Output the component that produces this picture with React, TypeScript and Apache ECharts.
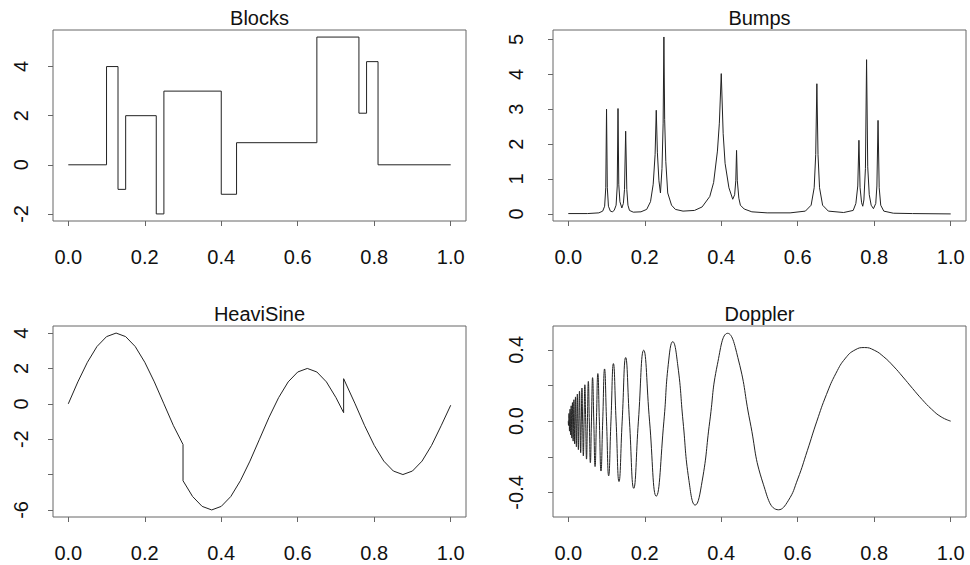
import React, { useEffect, useRef } from "react";
import * as echarts from "echarts";

const titles = ["Blocks", "Bumps", "HeaviSine", "Doppler"];
const xTicks = [0, 0.2, 0.4, 0.6, 0.8, 1.0];

const blocksTicks = [-2, 0, 2, 4];
const bumpsTicks = [0, 1, 2, 3, 4, 5];
const heaviTicks = [-6, -4, -2, 0, 2, 4];
const heaviLabels = [-6, -2, 0, 2, 4];
const dopplerTicks = [-0.4, -0.2, 0, 0.2, 0.4];
const dopplerLabels = [-0.4, 0, 0.4];

// Blocks: step function (value holds until next x)
const blocksData = [
  [0, 0], [0.1, 4], [0.13, -1], [0.15, 2], [0.23, -2], [0.25, 3],
  [0.4, -1.2], [0.44, 0.9], [0.65, 5.2], [0.76, 2.1], [0.78, 4.2], [0.81, 0], [1.0, 0],
];

const bumpsData = [
  [0, 0.01], [0.05, 0.01], [0.08, 0.03], [0.09, 0.08], [0.095, 0.22], [0.098, 0.75], [0.1, 3.0],
  [0.102, 0.75], [0.105, 0.22], [0.11, 0.08], [0.115, 0.06], [0.12, 0.1], [0.125, 0.25],
  [0.128, 0.8], [0.13, 3.02], [0.132, 0.85], [0.135, 0.35], [0.14, 0.17], [0.144, 0.3],
  [0.147, 0.7], [0.15, 2.37], [0.153, 0.7], [0.156, 0.25], [0.16, 0.1], [0.17, 0.05],
  [0.19, 0.06], [0.205, 0.13], [0.215, 0.35], [0.222, 0.85], [0.227, 1.7], [0.23, 2.97],
  [0.233, 1.75], [0.237, 0.95], [0.241, 0.6], [0.245, 1.3], [0.248, 2.6], [0.25, 5.07],
  [0.252, 2.7], [0.255, 1.5], [0.26, 0.6], [0.27, 0.25], [0.28, 0.13], [0.3, 0.08],
  [0.33, 0.1], [0.35, 0.2], [0.37, 0.5], [0.38, 0.9], [0.39, 1.8], [0.395, 2.6], [0.4, 4.02],
  [0.405, 2.3], [0.41, 1.45], [0.42, 0.75], [0.43, 0.42], [0.435, 0.55], [0.438, 0.95],
  [0.44, 1.82], [0.442, 0.95], [0.446, 0.45], [0.45, 0.25], [0.46, 0.14], [0.48, 0.06],
  [0.52, 0.03], [0.58, 0.03], [0.62, 0.08], [0.635, 0.25], [0.643, 0.75], [0.647, 1.7],
  [0.65, 3.73], [0.653, 1.7], [0.657, 0.75], [0.665, 0.25], [0.68, 0.08], [0.72, 0.04],
  [0.745, 0.1], [0.752, 0.3], [0.757, 0.8], [0.76, 2.11], [0.763, 0.75], [0.767, 0.32],
  [0.77, 0.22], [0.773, 0.4], [0.777, 1.3], [0.78, 4.42], [0.783, 1.35], [0.787, 0.55],
  [0.792, 0.25], [0.798, 0.15], [0.804, 0.3], [0.807, 0.8], [0.81, 2.68], [0.813, 0.75],
  [0.817, 0.25], [0.825, 0.08], [0.85, 0.02], [0.9, 0.01], [1.0, 0.0],
];

const heaviData = [
  [0, 0], [0.025, 1.24], [0.05, 2.35], [0.075, 3.24], [0.1, 3.8], [0.125, 4.0], [0.15, 3.8],
  [0.175, 3.24], [0.2, 2.35], [0.225, 1.24], [0.25, 0], [0.275, -1.24], [0.3, -2.3],
  [0.3, -4.35], [0.325, -5.24], [0.35, -5.8], [0.375, -6.0], [0.4, -5.8], [0.425, -5.24],
  [0.45, -4.35], [0.475, -3.24], [0.5, -2.0], [0.525, -0.76], [0.55, 0.35], [0.575, 1.24],
  [0.6, 1.8], [0.625, 2.0], [0.65, 1.8], [0.675, 1.24], [0.7, 0.35], [0.72, -0.5],
  [0.72, 1.42], [0.75, 0], [0.775, -1.24], [0.8, -2.35], [0.825, -3.24], [0.85, -3.8],
  [0.875, -4.0], [0.9, -3.8], [0.925, -3.24], [0.95, -2.35], [0.975, -1.24], [1.0, -0.08],
];

const dopplerData = [
  [0, 0], [0.0006, -0.024], [0.00122, 0], [0.00185, 0.043], [0.0025, 0], [0.00316, -0.056],
  [0.00385, 0], [0.00455, 0.067], [0.00526, 0], [0.006, -0.077], [0.00676, 0], [0.00753, 0.086],
  [0.00833, 0], [0.00915, -0.095], [0.01, 0], [0.01087, 0.104], [0.01176, 0], [0.01269, -0.112],
  [0.01364, 0], [0.01462, 0.12], [0.01563, 0], [0.01667, -0.128], [0.01774, 0], [0.01885, 0.136],
  [0.02, 0], [0.02119, -0.144], [0.02241, 0], [0.02368, 0.152], [0.025, 0], [0.02636, -0.16],
  [0.02778, 0], [0.02925, 0.168], [0.03077, 0], [0.03235, -0.177], [0.034, 0], [0.03571, 0.186],
  [0.0375, 0], [0.03936, -0.195], [0.0413, 0], [0.04333, 0.204], [0.04545, 0], [0.04767, -0.213],
  [0.05, 0], [0.05244, 0.223], [0.055, 0], [0.05769, -0.233], [0.06053, 0], [0.06351, 0.244],
  [0.06667, 0], [0.07, -0.255], [0.07353, 0], [0.07727, 0.267], [0.08125, 0], [0.08548, -0.28],
  [0.09, 0], [0.09483, 0.293], [0.1, 0], [0.10556, -0.307], [0.11154, 0], [0.118, 0.323],
  [0.125, 0], [0.1326, -0.339], [0.14091, 0], [0.15, 0.357], [0.16, 0], [0.1711, -0.377],
  [0.18333, 0], [0.1971, 0.398], [0.2125, 0], [0.23, -0.421], [0.25, 0], [0.2615, 0.319],
  [0.2731, 0.446], [0.2865, 0.31], [0.3, 0], [0.3155, -0.333], [0.3318, -0.471], [0.35, -0.337],
  [0.37, 0], [0.39, 0.319], [0.4167, 0.493], [0.445, 0.343], [0.475, 0], [0.51, -0.354],
  [0.55, -0.4975], [0.575, -0.447], [0.6, -0.325], [0.625, -0.166], [0.65, 0], [0.675, 0.149],
  [0.7, 0.269], [0.725, 0.354], [0.75, 0.4], [0.775, 0.413], [0.8, 0.398], [0.825, 0.361],
  [0.85, 0.309], [0.875, 0.248], [0.9, 0.184], [0.925, 0.122], [0.95, 0.067], [0.975, 0.024],
  [1.0, 0],
];

const FONT = '"Liberation Sans", Arial, Helvetica, sans-serif';
const AXIS_COLOR = "#666";
const LINE_COLOR = "#222";
const TEXT_COLOR = "#111";

export default function App() {
  const ref = useRef<HTMLDivElement>(null);
  useEffect(() => {
    if (!ref.current) return;
    const chart = echarts.init(ref.current, null, { renderer: "svg" });

    const grids = [
      { left: 53, top: 30, width: 413, height: 191 },
      { left: 553, top: 30, width: 413, height: 191 },
      { left: 53, top: 326, width: 413, height: 191 },
      { left: 553, top: 326, width: 413, height: 191 },
    ];
    const yCfg = [
      { min: -2.288, max: 5.488, ticks: blocksTicks, labels: blocksTicks, fmt: (v: number) => String(v), margin: 22 },
      { min: -0.203, max: 5.27, ticks: bumpsTicks, labels: bumpsTicks, fmt: (v: number) => String(v), margin: 27 },
      { min: -6.4, max: 4.4, ticks: heaviTicks, labels: heaviLabels, fmt: (v: number) => String(v), margin: 22 },
      { min: -0.538, max: 0.534, ticks: dopplerTicks, labels: dopplerLabels, fmt: (v: number) => v.toFixed(1), margin: 27 },
    ];
    const datasets = [blocksData, bumpsData, heaviData, dopplerData];

    const option: any = {
      animation: false,
      backgroundColor: "#fff",
      grid: grids.map((g) => ({
        ...g,
        show: true,
        borderColor: AXIS_COLOR,
        borderWidth: 1,
        backgroundColor: "transparent",
        containLabel: false,
      })),
      xAxis: grids.map((_, i) => ({
        type: "value",
        gridIndex: i,
        min: -0.04,
        max: 1.04,
        position: "bottom",
        splitLine: { show: false },
        axisLine: { show: false, onZero: false },
        axisTick: {
          show: true,
          inside: false,
          length: 5,
          customValues: xTicks,
          lineStyle: { color: AXIS_COLOR, width: 1 },
        },
        axisLabel: {
          show: true,
          customValues: xTicks,
          margin: 26,
          formatter: (v: number) => v.toFixed(1),
          color: TEXT_COLOR,
          fontSize: 20,
          fontFamily: FONT,
        },
      })),
      yAxis: yCfg.map((c, i) => ({
        type: "value",
        gridIndex: i,
        min: c.min,
        max: c.max,
        position: "left",
        splitLine: { show: false },
        axisLine: { show: false, onZero: false },
        axisTick: {
          show: true,
          inside: false,
          length: 5,
          customValues: c.ticks,
          lineStyle: { color: AXIS_COLOR, width: 1 },
        },
        axisLabel: {
          show: true,
          customValues: c.labels,
          rotate: 90,
          margin: c.margin,
          formatter: c.fmt,
          color: TEXT_COLOR,
          fontSize: 20,
          fontFamily: FONT,
        },
      })),
      series: datasets.map((d, i) => ({
        type: "line",
        xAxisIndex: i,
        yAxisIndex: i,
        data: d,
        showSymbol: false,
        symbol: "none",
        step: i === 0 ? "end" : false,
        smooth: i === 3 ? 0.5 : false,
        lineStyle: { color: LINE_COLOR, width: 1 },
        clip: true,
        silent: true,
      })),
      graphic: grids.map((g, i) => ({
        type: "text",
        x: g.left + g.width / 2,
        y: g.top - 12,
        style: {
          text: titles[i],
          fill: TEXT_COLOR,
          font: `20px ${FONT}`,
          align: "center",
          verticalAlign: "middle",
        },
      })),
    };
    chart.setOption(option);
    return () => chart.dispose();
  }, []);
  return (
    <div
      ref={ref}
      style={{ position: "fixed", left: 0, top: 0, width: 970, height: 565, background: "#fff" }}
    />
  );
}
